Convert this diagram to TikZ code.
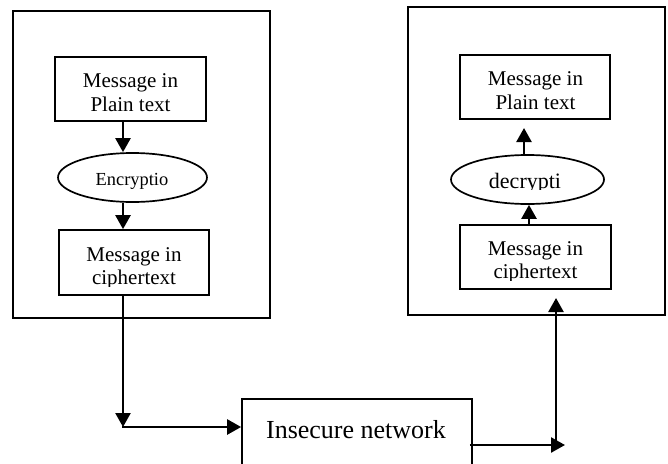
\documentclass[tikz,border=0pt]{standalone}
\usepackage{fontspec}
\setmainfont{Liberation Serif}
\usetikzlibrary{arrows.meta,shapes.geometric}
\begin{document}
\begin{tikzpicture}[x=1pt,y=-1pt,
  outer/.style={draw,line width=2.2pt,rectangle,inner sep=0pt},
  inbox/.style={draw,line width=1.7pt,rectangle,inner sep=0pt},
  oval/.style={draw,line width=1.7pt,ellipse,inner sep=0pt},
  lbl/.style={anchor=base,inner sep=0pt,font=\fontsize{21}{24}\selectfont},
  arr/.style={line width=2.4pt,-{Triangle[length=14pt,width=15pt]}},
]
\clip (0,0) rectangle (668,463);
\fill[white] (0,0) rectangle (668,463);

% frames
\node[outer,minimum width=257pt,minimum height=307pt] (lframe) at (141.5,164.5) {};
\node[outer,minimum width=257pt,minimum height=308pt] (rframe) at (536.5,161) {};

% left side
\node[inbox,minimum width=151pt,minimum height=64pt] (lp) at (130.5,89) {};
\node[lbl] (lp1) at (130.5,87) {Message in};
\node[lbl] (lp2) at (130.5,111) {Plain text};

\node[oval,minimum width=149pt,minimum height=49pt] (enc) at (132.5,177.5) {};
\node[lbl,font=\fontsize{18.4}{20}\selectfont] (enct) at (132,185) {Encryptio};

\node[inbox,minimum width=150pt,minimum height=65pt] (lc) at (134,262.5) {};
\begin{scope}
  \clip (60,231) rectangle (208,286);
  \node[lbl] (lc1) at (134,261) {Message in};
  \node[lbl] (lc2) at (134,284) {ciphertext};
\end{scope}

% right side
\node[inbox,minimum width=150pt,minimum height=64pt] (rp) at (535,87) {};
\node[lbl] (rp1) at (535.5,85) {Message in};
\node[lbl] (rp2) at (535.5,109) {Plain text};

\node[oval,minimum width=153pt,minimum height=49pt] (dec) at (527.5,179.5) {};
\begin{scope}
  \clip (452,156) rectangle (604,189.5);
  \node[lbl,font=\fontsize{22}{24}\selectfont] (dect) at (525,188) {decrypti};
\end{scope}

\node[inbox,minimum width=151pt,minimum height=64pt] (rc) at (535.5,257) {};
\begin{scope}
  \clip (461,226) rectangle (610,280.5);
  \node[lbl] (rc1) at (535.5,255) {Message in};
  \node[lbl] (rc2) at (535.5,278) {ciphertext};
\end{scope}

% network
\node[inbox,minimum width=230pt,minimum height=70pt] (net) at (357,434) {};
\node[lbl,font=\fontsize{26}{28}\selectfont] (nett) at (356,438) {Insecure network};

% helper coordinates
\coordinate (lx) at (123,0);
\coordinate (c1) at (123,427);
\coordinate (c2) at (565,445);
\coordinate (c3) at (556,445);
\coordinate (c4) at (556,298);
\coordinate (rx1) at (524,0);
\coordinate (t1) at (524,128);
\coordinate (rx2) at (529,0);

% connectors
\draw[arr] (lx |- lp.south) -- (lx |- enc.north);
\draw[arr] (lx |- enc.south) -- (lx |- lc.north);
\draw[arr] (lx |- lc.south) -- (c1);
\draw[arr] ([xshift=-1pt]c1) -- (net.west |- c1);
\draw[arr] ([xshift=-3pt]net.east |- c2) -- (c2);
\draw[arr] ([yshift=1pt]c3) -- (c4);
\draw[arr] (rx2 |- rc.north) -- (rx2 |- dec.south);
\draw[arr] (rx1 |- dec.north) -- (t1);
\end{tikzpicture}
\end{document}
